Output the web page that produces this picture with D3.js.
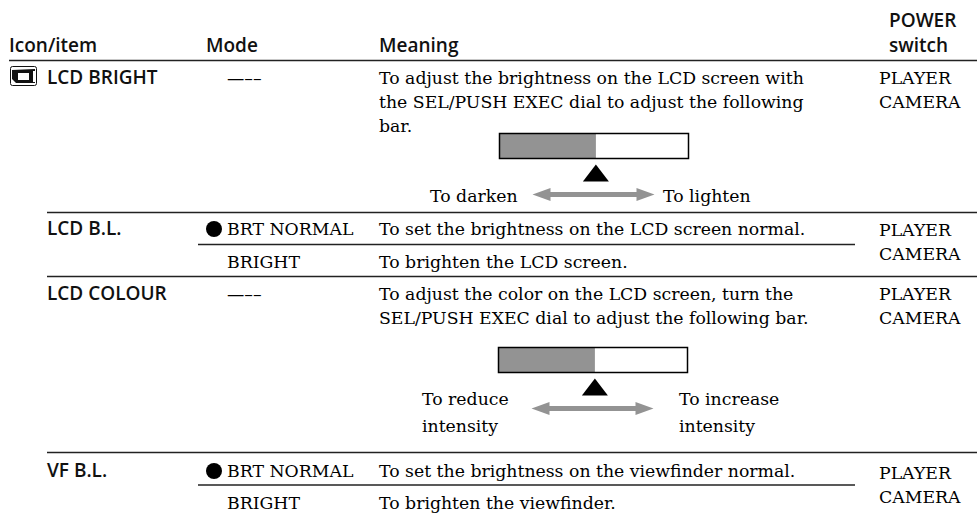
<!DOCTYPE html>
<html>
<head>
<meta charset="utf-8">
<script src="https://cdnjs.cloudflare.com/ajax/libs/d3/7.8.5/d3.min.js"></script>
<style>
html, body { margin: 0; padding: 0; background: #fff; }
svg { display: block; }
.head, .item { font: 600 19px "Open Sans", sans-serif; fill: #111; }
.body { font: 17.3px "DejaVu Serif", serif; fill: #000; }
</style>
</head>
<body>
<div id="chart"></div>
<script>
// Table text
let headers = ["Icon/item", "Mode", "Meaning", "POWER", "switch"];
let items = ["LCD BRIGHT", "LCD B.L.", "LCD COLOUR", "VF B.L."];
let modes = ["—––", "BRT NORMAL", "BRIGHT", "—––", "BRT NORMAL", "BRIGHT"];
let bullets = ["BRT NORMAL"];
let meanings = [
    "To adjust the brightness on the LCD screen with",
    "the SEL/PUSH EXEC dial to adjust the following",
    "bar.",
    "To set the brightness on the LCD screen normal.",
    "To brighten the LCD screen.",
    "To adjust the color on the LCD screen, turn the",
    "SEL/PUSH EXEC dial to adjust the following bar.",
    "To set the brightness on the viewfinder normal.",
    "To brighten the viewfinder."
];
let power = ["PLAYER", "CAMERA"];
let bar_labels = ["To darken", "To lighten", "To reduce", "intensity", "To increase", "intensity"];
let level = [0.51];

// Layout
let head_pos = [[9, 52], [206, 52], [379, 52], [889, 27], [889, 52]];
let item_y = [84, 235, 300, 477];
let mode_y = [84, 235, 268, 300, 477, 509];
let meaning_y = [84, 108, 132, 235, 268, 300, 324, 477, 509];
let power_y = [[84, 108], [236, 260], [300, 324], [479, 503]];
let rules = [[9, 60.5, 977], [47, 212.5, 977], [198, 244.5, 855], [47, 276.5, 977], [47, 452.5, 977], [198, 485, 855]];
let bars = [
    { x: 499.5, y: 133.5, labels: [[430, 202], [663, 202]] },
    { x: 498.5, y: 347.5, labels: [[422, 405], [422, 432], [679, 405], [679, 432]] }
];

let svg = d3.select("#chart").append("svg")
    .attr("width", 977)
    .attr("height", 513);

svg.selectAll(".head")
    .data(headers)
    .enter()
    .append("text")
    .attr("class", "head")
    .attr("x", (d, i) => head_pos[i][0])
    .attr("y", (d, i) => head_pos[i][1])
    .text(d => d);

svg.selectAll(".rule")
    .data(rules)
    .enter()
    .append("line")
    .attr("x1", d => d[0])
    .attr("x2", d => d[2])
    .attr("y1", d => d[1])
    .attr("y2", d => d[1])
    .attr("stroke", "#222")
    .attr("stroke-width", 1.3);

svg.selectAll(".item")
    .data(items)
    .enter()
    .append("text")
    .attr("class", "item")
    .attr("x", 47)
    .attr("y", (d, i) => item_y[i])
    .text(d => d);

svg.selectAll(".mode")
    .data(modes)
    .enter()
    .append("text")
    .attr("class", "mode body")
    .attr("x", 227)
    .attr("y", (d, i) => mode_y[i])
    .text(d => d);

svg.selectAll(".bullet")
    .data(modes.map((d, i) => [d, i]).filter(d => bullets.includes(d[0])))
    .enter()
    .append("circle")
    .attr("cx", 214)
    .attr("cy", d => mode_y[d[1]] - 6)
    .attr("r", 8)
    .attr("fill", "#000");

svg.selectAll(".meaning")
    .data(meanings)
    .enter()
    .append("text")
    .attr("class", "meaning body")
    .attr("x", 379)
    .attr("y", (d, i) => meaning_y[i])
    .text(d => d);

power_y.forEach(ys => {
    ys.forEach((y, i) => {
        svg.append("text")
            .attr("class", "body")
            .attr("x", 879)
            .attr("y", y)
            .text(power[i]);
    });
});

// LCD icon
let icon = svg.append("g").attr("transform", "translate(10, 66)");
icon.append("rect").attr("x", 0.5).attr("y", 0.5).attr("width", 26).attr("height", 19).attr("rx", 2)
    .attr("fill", "#fff").attr("stroke", "#111");
icon.append("path").attr("d", "M2 4L25 3V5H23V16H25V17H6L2 13Z").attr("fill", "#111");
icon.append("rect").attr("x", 8).attr("y", 7).attr("width", 11).attr("height", 7).attr("fill", "#fff");

// Adjustment bars
let x_bar = d3.scaleLinear().domain([0, 1]).range([0, 189]);

bars.forEach(b => {
    let g = svg.append("g").attr("transform", `translate(${b.x}, ${b.y})`);
    g.append("rect")
        .attr("width", x_bar(1))
        .attr("height", 25)
        .attr("fill", "#fff");
    g.selectAll(".level")
        .data(level)
        .enter()
        .append("rect")
        .attr("width", d => x_bar(d))
        .attr("height", 25)
        .attr("fill", "#939393");
    g.append("rect")
        .attr("width", x_bar(1))
        .attr("height", 25)
        .attr("fill", "none")
        .attr("stroke", "#000")
        .attr("stroke-width", 1.5);

    // pointer under the level
    let px = x_bar(level[0]);
    g.append("path")
        .attr("d", `M${px} 31 L${px + 13} 48 L${px - 13} 48 Z`)
        .attr("fill", "#000");

    // grey double arrow
    let ay = 61;
    g.append("path")
        .attr("d", `M33 ${ay} L51 ${ay - 6.5} V${ay - 2.5} H137 V${ay - 6.5} L155 ${ay} L137 ${ay + 6.5} V${ay + 2.5} H51 V${ay + 6.5} Z`)
        .attr("fill", "#939393");
});

let label_pos = bars[0].labels.concat(bars[1].labels);
svg.selectAll(".bar-label")
    .data(bar_labels)
    .enter()
    .append("text")
    .attr("class", "bar-label body")
    .attr("x", (d, i) => label_pos[i][0])
    .attr("y", (d, i) => label_pos[i][1])
    .text(d => d);
</script>
</body>
</html>
